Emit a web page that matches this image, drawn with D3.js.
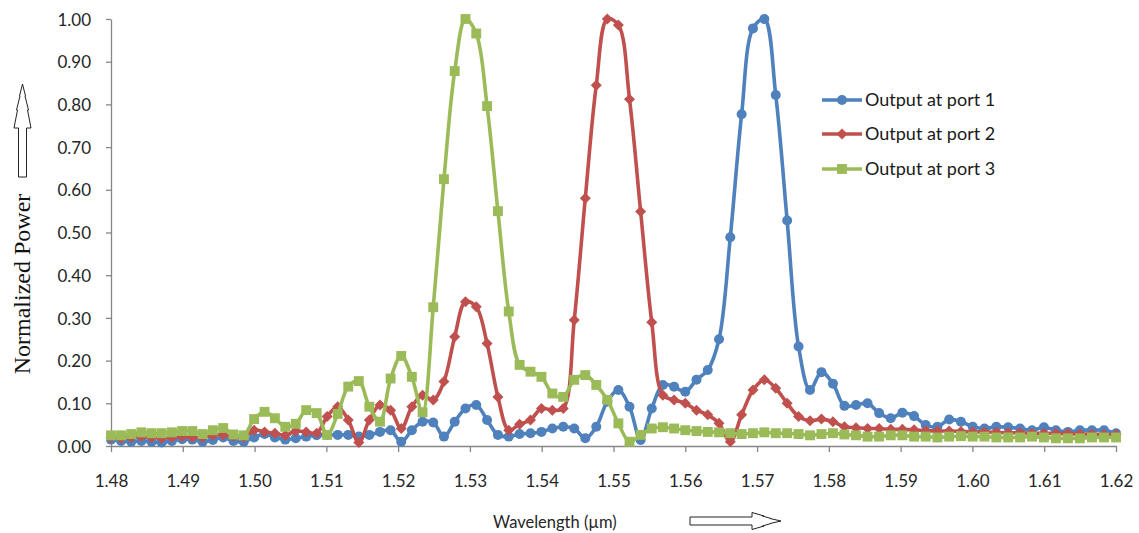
<!DOCTYPE html>
<html><head><meta charset="utf-8">
<script src="https://cdn.jsdelivr.net/npm/d3@7"></script>
<style>
html,body{margin:0;padding:0;background:#fff;}
svg{display:block;}
</style></head><body>
<svg id="chart" width="1139" height="533"></svg>
<script>
const wavelengths=[1.48000,1.48141,1.48282,1.48423,1.48565,1.48707,1.48849,1.48991,1.49133,1.49276,
1.49419,1.49563,1.49706,1.49850,1.49994,1.50139,1.50283,1.50428,1.50574,1.50719,
1.50865,1.51011,1.51158,1.51305,1.51452,1.51599,1.51747,1.51895,1.52043,1.52191,
1.52340,1.52489,1.52638,1.52788,1.52938,1.53088,1.53239,1.53390,1.53541,1.53692,
1.53844,1.53996,1.54148,1.54300,1.54453,1.54607,1.54760,1.54914,1.55068,1.55223,
1.55378,1.55533,1.55688,1.55844,1.56000,1.56156,1.56313,1.56470,1.56627,1.56785,
1.56943,1.57101,1.57260,1.57419,1.57578,1.57737,1.57897,1.58057,1.58217,1.58378,
1.58539,1.58700,1.58862,1.59024,1.59187,1.59349,1.59512,1.59676,1.59840,1.60004,
1.60168,1.60333,1.60498,1.60664,1.60830,1.60996,1.61163,1.61330,1.61497,1.61665,
1.61833,1.62001];

const port1=[0.015,0.012,0.010,0.012,0.010,0.008,0.012,0.016,0.015,0.010,
0.014,0.020,0.012,0.010,0.020,0.028,0.020,0.015,0.018,0.022,
0.025,0.026,0.026,0.026,0.022,0.026,0.033,0.037,0.010,0.037,
0.057,0.055,0.022,0.057,0.088,0.096,0.061,0.026,0.022,0.028,
0.030,0.033,0.041,0.045,0.041,0.018,0.045,0.104,0.131,0.092,
0.014,0.088,0.143,0.139,0.127,0.155,0.178,0.250,0.489,0.777,
0.978,1.000,0.822,0.528,0.233,0.131,0.173,0.146,0.094,0.096,
0.100,0.077,0.065,0.078,0.070,0.049,0.045,0.062,0.057,0.045,
0.041,0.045,0.044,0.041,0.037,0.044,0.037,0.033,0.037,0.037,
0.037,0.030];

const port2=[0.020,0.018,0.020,0.022,0.020,0.018,0.020,0.022,0.020,0.020,
0.025,0.026,0.022,0.020,0.037,0.033,0.030,0.025,0.035,0.033,
0.030,0.069,0.092,0.061,0.008,0.061,0.096,0.084,0.041,0.092,
0.119,0.108,0.151,0.256,0.338,0.326,0.240,0.115,0.037,0.051,
0.061,0.088,0.084,0.088,0.295,0.580,0.845,1.000,0.986,0.812,
0.549,0.290,0.119,0.108,0.100,0.084,0.073,0.053,0.010,0.073,
0.131,0.155,0.135,0.100,0.069,0.059,0.063,0.057,0.045,0.043,
0.041,0.041,0.039,0.039,0.038,0.036,0.035,0.035,0.034,0.033,
0.033,0.032,0.031,0.031,0.030,0.030,0.029,0.029,0.028,0.028,
0.027,0.027];

const port3=[0.025,0.025,0.028,0.032,0.030,0.030,0.032,0.035,0.035,0.028,
0.037,0.042,0.027,0.025,0.063,0.080,0.065,0.045,0.052,0.084,
0.077,0.026,0.075,0.139,0.152,0.092,0.057,0.158,0.211,0.162,
0.079,0.325,0.625,0.878,1.000,0.966,0.796,0.550,0.315,0.190,
0.174,0.162,0.123,0.115,0.155,0.166,0.143,0.108,0.053,0.010,
0.026,0.041,0.044,0.041,0.037,0.035,0.033,0.032,0.030,0.028,
0.030,0.032,0.030,0.030,0.028,0.025,0.028,0.030,0.027,0.025,
0.022,0.022,0.025,0.025,0.022,0.022,0.020,0.022,0.023,0.022,
0.022,0.020,0.020,0.020,0.022,0.020,0.018,0.018,0.018,0.020,
0.020,0.020];

const seriesNames=["Output at port 1","Output at port 2","Output at port 3"];
const yTicks=[0,0.1,0.2,0.3,0.4,0.5,0.6,0.7,0.8,0.9,1.0];
const xTicks=[1.48,1.49,1.50,1.51,1.52,1.53,1.54,1.55,1.56,1.57,1.58,1.59,1.60,1.61,1.62];
const xTitle="Wavelength (\u00b5m)";
const yTitle="Normalized Power";

const colors=["#4F81BD","#C0504D","#9BBB59"];
const markerPaths=[
  d3.symbol(d3.symbolCircle, Math.PI*5*5)(),
  "M0,-5.5L5.5,0L0,5.5L-5.5,0Z",
  d3.symbol(d3.symbolSquare, 98)()
];
const sansFont="Lato, 'Liberation Sans', sans-serif";

const svg=d3.select("#chart");
const x=d3.scaleLinear().domain([1.48,1.62]).range([111,1116]);
const y=d3.scaleLinear().domain([0,1]).range([446,19]);

const axisColor="#868686";
// y axis
const gy=svg.append("g").attr("transform","translate(111,0)")
  .call(d3.axisLeft(y).tickValues(yTicks).tickFormat(d3.format(".2f")).tickSize(5).tickSizeOuter(0));
gy.select(".domain").attr("stroke",axisColor).attr("stroke-width",1.3);
gy.selectAll(".tick line").attr("stroke",axisColor).attr("stroke-width",1.3);
gy.selectAll(".tick text").attr("x",-20).attr("dy","0.36em")
  .attr("font-family",sansFont).attr("font-size",17).attr("fill","#262626");

// x axis
const gx=svg.append("g").attr("transform","translate(0,446)")
  .call(d3.axisBottom(x).tickValues(xTicks).tickFormat(d3.format(".2f")).tickSize(6).tickSizeOuter(0));
gx.select(".domain").attr("stroke",axisColor).attr("stroke-width",1.3);
gx.selectAll(".tick line").attr("stroke",axisColor).attr("stroke-width",1.3);
gx.selectAll(".tick text").attr("y",35).attr("dy","0.36em")
  .attr("font-family",sansFont).attr("font-size",17).attr("fill","#262626");

// series
const allSeries=[port1,port2,port3];
const line=d3.line().x(d=>x(d[0])).y(d=>y(d[1])).curve(d3.curveCatmullRom.alpha(0.5));
allSeries.forEach((vals,i)=>{
  const pts=wavelengths.map((w,j)=>[w,vals[j]]);
  const g=svg.append("g");
  g.append("path").datum(pts).attr("d",line).attr("fill","none")
    .attr("stroke",colors[i]).attr("stroke-width",3.6).attr("stroke-linejoin","round");
  g.selectAll("path.m").data(pts).enter().append("path").attr("class","m")
    .attr("d",markerPaths[i]).attr("transform",d=>`translate(${x(d[0])},${y(d[1])})`)
    .attr("fill",colors[i]);
});

// legend
const legRows=[100,134,169];
seriesNames.forEach((n,i)=>{
  const g=svg.append("g").attr("transform",`translate(0,${legRows[i]})`);
  g.append("line").attr("x1",822).attr("x2",862).attr("y1",0).attr("y2",0)
    .attr("stroke",colors[i]).attr("stroke-width",3.6);
  g.append("path").attr("d",markerPaths[i]).attr("transform","translate(842,0)").attr("fill",colors[i]);
  g.append("text").attr("x",865).attr("y",0).attr("dy","0.36em").text(n)
    .attr("font-family",sansFont).attr("font-size",18).attr("fill","#1a1a1a");
});

// axis titles
svg.append("text").attr("x",493).attr("y",522).attr("dy","0.36em").text(xTitle)
  .attr("font-family",sansFont).attr("font-size",16.5).attr("fill","#262626");
svg.append("text").attr("transform","translate(22,284) rotate(-90)").attr("text-anchor","middle")
  .attr("dy","0.34em").text(yTitle)
  .attr("font-family","'Liberation Serif', 'Times New Roman', serif").attr("font-size",24).attr("fill","#111");

// outline arrows
svg.append("path")
  .attr("d","M690,517 H752 V512.5 L764,516 H762.5 L771,518.5 H770 L781,521 L770,523.5 H771 L762.5,526 H764 L752,529.5 V525 H690 Z")
  .attr("fill","#fff").attr("stroke","#222").attr("stroke-width",1);
svg.append("path")
  .attr("d","M18.5,177 V128 H14 L17.5,110 H16.5 L20,96 H19.5 L22.5,84 L25.5,96 H25 L28.5,110 H27.5 L31,128 H26.5 V177 Z")
  .attr("fill","#fff").attr("stroke","#222").attr("stroke-width",1);
</script>
</body></html>
